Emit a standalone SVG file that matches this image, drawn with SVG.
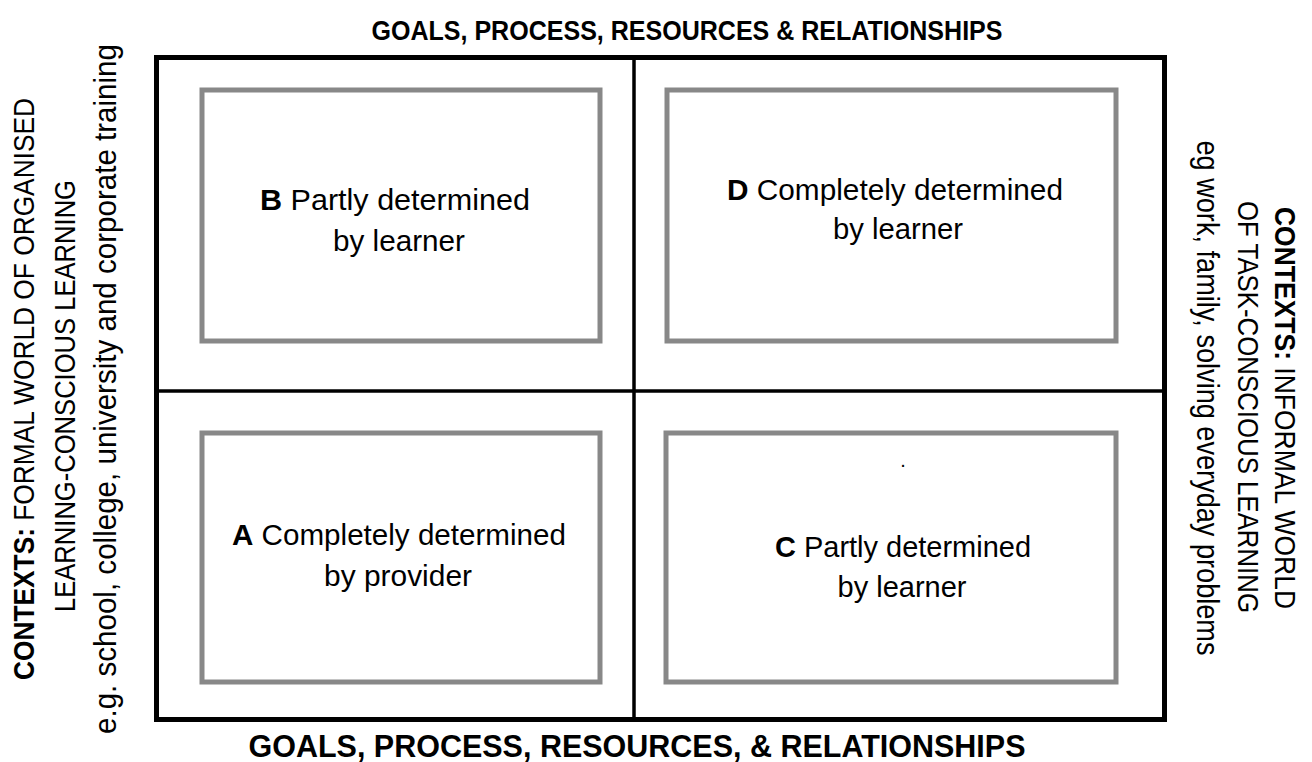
<svg xmlns="http://www.w3.org/2000/svg" width="1312" height="762" viewBox="0 0 1312 762">
<style>
.frame{fill:none;stroke:#000;stroke-width:5}
.div{stroke:#000;stroke-width:3.5}
.box{fill:#fff;stroke:#888;stroke-width:5}
.t{font-family:"Liberation Sans",Arial,sans-serif;fill:#000}
.bd{font-weight:bold}
.head{font-family:"Liberation Sans",Arial,sans-serif;font-weight:bold;fill:#000}
</style>
<rect width="1312" height="762" fill="#fff"/>
<g id="connectors">
<rect class="frame" x="156.5" y="57.5" width="1008" height="662"/>
<line class="div" x1="634" y1="57" x2="634" y2="720"/>
<line class="div" x1="156" y1="391" x2="1165" y2="391"/>
</g>
<g id="nodeB">
<rect class="box" x="202" y="90" width="398" height="251"/>
<text class="t" font-size="30" x="395" y="210" text-anchor="middle" textLength="270" lengthAdjust="spacingAndGlyphs"><tspan class="bd">B</tspan> Partly determined</text>
<text class="t" font-size="30" x="399" y="251" text-anchor="middle" textLength="132" lengthAdjust="spacingAndGlyphs">by learner</text>
</g>
<g id="nodeD">
<rect class="box" x="667" y="90" width="449" height="251"/>
<text class="t" font-size="30" x="895" y="200" text-anchor="middle" textLength="336" lengthAdjust="spacingAndGlyphs"><tspan class="bd">D</tspan> Completely determined</text>
<text class="t" font-size="30" x="898" y="239" text-anchor="middle" textLength="130" lengthAdjust="spacingAndGlyphs">by learner</text>
</g>
<g id="nodeA">
<rect class="box" x="202" y="433" width="398" height="249"/>
<text class="t" font-size="30" x="399" y="545" text-anchor="middle" textLength="334" lengthAdjust="spacingAndGlyphs"><tspan class="bd">A</tspan> Completely determined</text>
<text class="t" font-size="30" x="398" y="586" text-anchor="middle" textLength="148" lengthAdjust="spacingAndGlyphs">by provider</text>
</g>
<g id="nodeC">
<rect class="box" x="666" y="433" width="450" height="249"/>
<text class="t" font-size="20" x="903" y="467" text-anchor="middle">.</text>
<text class="t" font-size="30" x="903" y="557" text-anchor="middle" textLength="256" lengthAdjust="spacingAndGlyphs"><tspan class="bd">C</tspan> Partly determined</text>
<text class="t" font-size="30" x="902" y="597" text-anchor="middle" textLength="129" lengthAdjust="spacingAndGlyphs">by learner</text>
</g>
<g id="title-top">
<text class="head" font-size="27" x="687" y="40" text-anchor="middle" textLength="631" lengthAdjust="spacingAndGlyphs">GOALS, PROCESS, RESOURCES &amp; RELATIONSHIPS</text>
</g>
<g id="title-bottom">
<text class="head" font-size="31" x="637" y="757" text-anchor="middle" textLength="777" lengthAdjust="spacingAndGlyphs">GOALS, PROCESS, RESOURCES, &amp; RELATIONSHIPS</text>
</g>
<g id="label-left">
<text class="t" font-size="30" transform="translate(34,389) rotate(-90)" text-anchor="middle" textLength="582" lengthAdjust="spacingAndGlyphs"><tspan class="bd">CONTEXTS:</tspan> FORMAL WORLD OF ORGANISED</text>
<text class="t" font-size="30" transform="translate(75,396) rotate(-90)" text-anchor="middle" textLength="432" lengthAdjust="spacingAndGlyphs">LEARNING-CONSCIOUS LEARNING</text>
<text class="t" font-size="31" transform="translate(116,389) rotate(-90)" text-anchor="middle" textLength="690" lengthAdjust="spacingAndGlyphs">e.g. school, college, university and corporate training</text>
</g>
<g id="label-right">
<text class="t" font-size="30" transform="translate(1275,408) rotate(90)" text-anchor="middle" textLength="402" lengthAdjust="spacingAndGlyphs"><tspan class="bd">CONTEXTS:</tspan> INFORMAL WORLD</text>
<text class="t" font-size="30" transform="translate(1238,407) rotate(90)" text-anchor="middle" textLength="412" lengthAdjust="spacingAndGlyphs">OF TASK-CONSCIOUS LEARNING</text>
<text class="t" font-size="31" transform="translate(1197,398) rotate(90)" text-anchor="middle" textLength="515" lengthAdjust="spacingAndGlyphs">eg work, family, solving everyday problems</text>
</g>
</svg>
